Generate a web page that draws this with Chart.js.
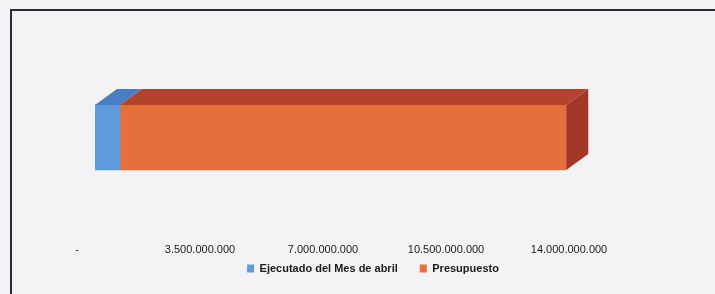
<!DOCTYPE html>
<html>
<head>
<meta charset="utf-8">
<script src="https://cdn.jsdelivr.net/npm/chart.js@4.4.1/dist/chart.umd.min.js"></script>
<style>
  html, body { margin: 0; padding: 0; background: #f3f3f5; }
  #wrap { width: 715px; height: 294px; position: relative; }
</style>
</head>
<body>
<div id="wrap"><canvas id="grafico"></canvas></div>
<script>
// datos
var categorias = ["Abril"];
var ejecutado = [710000000];
var presupuesto = [12700000000];
var ticksEje = [0, 3500000000, 7000000000, 10500000000, 14000000000];

function miles(v) {
    if (v === 0) return "-";
    return String(v).replace(/\B(?=(\d{3})+(?!\d))/g, ".");
}

// marco del grafico (linea arriba y a la izquierda)
var marco = {
    id: "marco",
    beforeDraw: function (chart) {
        var c = chart.ctx;
        c.save();
        c.fillStyle = "#f3f3f5";
        c.fillRect(0, 0, chart.width, chart.height);
        c.strokeStyle = "#2a2a30";
        c.lineWidth = 2;
        c.beginPath();
        c.moveTo(chart.width, 10);
        c.lineTo(11, 10);
        c.lineTo(11, chart.height);
        c.stroke();
        c.restore();
    }
};

// acercar etiquetas del eje y leyenda
var ajuste = {
    id: "ajuste",
    afterLayout: function (chart) {
        var x = chart.scales.x;
        x.top += 10;
        x.bottom += 10;
        chart.legend.top -= 10;
        chart.legend.bottom -= 10;
    }
};

// cara superior y lateral para simular 3D
var barra3d = {
    id: "barra3d",
    afterDatasetsDraw: function (chart) {
        var c = chart.ctx;
        var dx = 22, dy = 16;
        var n = chart.data.datasets.length;
        c.save();
        chart.data.datasets.forEach(function (ds, i) {
            var meta = chart.getDatasetMeta(i);
            meta.data.forEach(function (bar) {
                var x0 = Math.min(bar.base, bar.x), x1 = Math.max(bar.base, bar.x);
                var top = bar.y - bar.height / 2, bot = bar.y + bar.height / 2;
                c.fillStyle = ds.topColor;
                c.beginPath();
                c.moveTo(x0, top);
                c.lineTo(x0 + dx, top - dy);
                c.lineTo(x1 + dx, top - dy);
                c.lineTo(x1, top);
                c.closePath();
                c.fill();
                if (i === n - 1) {
                    c.fillStyle = ds.sideColor;
                    c.beginPath();
                    c.moveTo(x1, top);
                    c.lineTo(x1 + dx, top - dy);
                    c.lineTo(x1 + dx, bot - dy);
                    c.lineTo(x1, bot);
                    c.closePath();
                    c.fill();
                }
            });
        });
        c.restore();
    }
};

var ctx = document.getElementById("grafico").getContext("2d");
var grafico = new Chart(ctx, {
    type: "bar",
    data: {
        labels: categorias,
        datasets: [{
                label: "Ejecutado del Mes de abril",
                data: ejecutado,
                backgroundColor: "#5f9bdc",
                topColor: "#4a7dc4",
                sideColor: "#3f6aa8",
                barThickness: 65
            },
            {
                label: "Presupuesto",
                data: presupuesto,
                backgroundColor: "#e4703c",
                topColor: "#b4432e",
                sideColor: "#a3372a",
                barThickness: 65
            }
        ]
    },
    options: {
        indexAxis: "y",
        responsive: true,
        maintainAspectRatio: false,
        animation: false,
        layout: {
            padding: { left: 41, right: 10, top: 45, bottom: 0 }
        },
        scales: {
            x: {
                stacked: true,
                min: 0,
                max: 14000000000,
                afterBuildTicks: function (axis) {
                    axis.ticks = ticksEje.map(function (v) { return { value: v }; });
                },
                grid: { display: false, drawTicks: false },
                border: { display: false },
                ticks: {
                    padding: 4,
                    labelOffset: -18,
                    color: "#1a1a1a",
                    font: { family: "Liberation Sans", size: 11 },
                    callback: function (v) { return miles(v); }
                }
            },
            y: {
                stacked: true,
                position: "left",
                grid: { display: false },
                border: { display: false },
                ticks: { display: false },
                afterFit: function (axis) { axis.width = 54; }
            },
            y2: {
                type: "linear",
                position: "right",
                grid: { display: false },
                border: { display: false },
                ticks: { display: false },
                afterFit: function (axis) { axis.width = 118; }
            }
        },
        plugins: {
            legend: {
                position: "bottom",
                labels: {
                    boxWidth: 7,
                    boxHeight: 8,
                    padding: 22,
                    color: "#1a1a1a",
                    font: { family: "Liberation Sans", size: 11, weight: "bold" }
                }
            },
            tooltip: { enabled: false }
        }
    },
    plugins: [marco, ajuste, barra3d]
});
</script>
</body>
</html>
